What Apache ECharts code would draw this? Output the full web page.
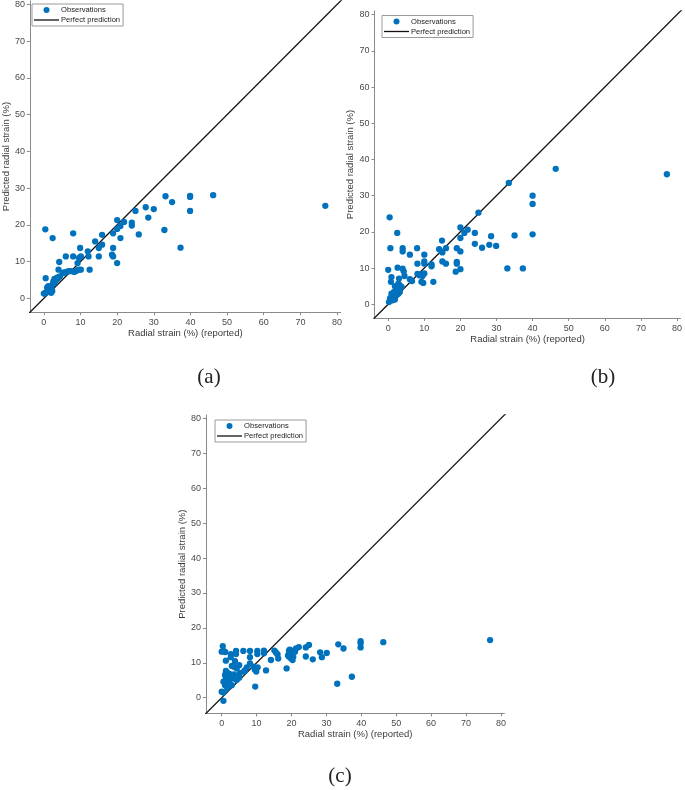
<!DOCTYPE html>
<html><head><meta charset="utf-8">
<script src="https://cdn.jsdelivr.net/npm/echarts@6/dist/echarts.min.js"></script>
<style>html,body{margin:0;padding:0;background:#fff}#c{width:685px;height:790px}</style>
</head><body><div id="c"></div>
<script>
const tickValues = [0, 10, 20, 30, 40, 50, 60, 70, 80];
const seriesNames = ['Observations', 'Perfect prediction'];
const panelLabels = ['(a)', '(b)', '(c)'];
const xTitle = 'Radial strain (%) (reported)';
const yTitle = 'Predicted radial strain (%)';
const perfectLine = [-10, 90];

const obsA = [[0.4,18.8],[2.4,16.4],[0.5,5.5],[0,1.3],[0.6,1.5],[1.1,2.0],[0.9,2.9],[1.5,2.6],[2.0,1.5],[2.3,2.0],[2.0,3.3],[2.4,3.8],[2.9,4.2],[2.9,5.3],[3.3,4.9],[3.6,5.6],[4.1,5.8],[4.4,6.0],[4.0,7.8],[4.2,9.9],[6.0,11.4],[5.4,6.9],[6.0,7.1],[6.7,7.4],[7.4,7.4],[8.0,17.7],[8.0,11.4],[8.3,7.2],[8.9,7.5],[9.5,7.8],[10.1,7.8],[9.2,9.6],[9.6,11.0],[10.1,11.4],[9.9,13.7],[12.0,12.8],[12.2,11.4],[12.5,7.8],[14.0,15.5],[15.0,13.7],[15.0,11.4],[15.9,14.6],[15.9,17.3],[18.6,11.9],[18.9,11.4],[18.9,13.7],[18.9,17.7],[20.0,21.3],[20.0,18.9],[20.0,9.6],[20.9,19.7],[20.9,16.4],[21.9,20.8],[24.0,20.6],[24.0,19.8],[25.0,23.8],[25.9,17.4],[27.8,24.8],[28.5,22.0],[30.0,24.3],[32.9,18.6],[33.2,27.8],[35.0,26.2],[37.3,13.8],[39.9,27.9],[39.9,27.6],[39.9,23.8],[46.2,28.1],[76.8,25.2],[1.2,3.3],[1.7,2.3],[2.6,4.6],[3.1,5.0],[3.8,5.4],[5.2,7.0],[1.0,1.8],[0.3,1.4]];

const obsB = [[46.4,37.4],[33.4,33.5],[40.0,30.0],[40.0,27.7],[40.0,19.3],[25.0,25.3],[0.4,24.0],[2.5,19.7],[20.0,21.2],[22.0,20.6],[21.1,19.7],[24.0,19.7],[28.5,18.8],[35.0,19.0],[20.0,18.3],[14.9,17.6],[24.0,16.7],[28.0,16.4],[26.0,15.6],[29.9,16.1],[0.6,15.5],[4.0,15.5],[4.0,14.6],[8.0,15.5],[14.1,15.2],[16.0,15.5],[19.0,15.5],[20.0,14.6],[6.0,13.7],[10.0,13.7],[15.0,14.3],[19.0,11.7],[19.0,11.2],[15.0,11.8],[16.0,11.2],[12.0,11.0],[12.0,10.5],[10.0,11.8],[10.0,11.2],[8.1,11.2],[18.7,9.0],[20.0,9.7],[33.0,9.9],[37.3,9.9],[0,9.5],[2.6,10.1],[4.0,9.8],[4.3,9.1],[12.5,6.2],[9.0,8.3],[9.5,7.8],[10.0,8.5],[9.2,6.2],[9.7,5.9],[8.1,8.4],[8.6,8.0],[6.0,6.9],[6.6,6.4],[4.5,7.8],[0.9,7.5],[0.75,6.2],[3.0,7.1],[1.85,5.0],[2.8,5.7],[3.2,5.2],[3.7,4.8],[0.2,0.6],[0.5,1.6],[0.9,2.0],[1.4,2.5],[1.85,2.0],[2.3,2.5],[2.8,2.9],[1.6,3.4],[2.1,3.7],[2.6,4.0],[1.2,1.1],[1.85,1.3],[3.2,3.4],[0.9,2.9],[77.2,35.9]];

const obsC = [[46.3,15.9],[39.8,16.2],[39.8,15.6],[39.8,14.4],[33.4,15.3],[34.9,14.1],[25.0,15.1],[24.1,14.4],[22.1,14.5],[21.3,14.1],[21.0,13.2],[19.3,13.5],[19.3,12.7],[20.0,13.5],[19.0,12.1],[20.0,12.1],[19.3,11.7],[20.5,11.7],[19.5,13.8],[19.8,11.3],[20.3,10.8],[18.6,8.4],[24.1,11.8],[26.1,11.0],[28.2,13.0],[28.7,11.6],[30.1,12.8],[33.1,4.0],[37.3,6.0],[15.1,13.5],[15.6,12.9],[16.0,12.4],[16.2,11.2],[14.1,10.8],[12.1,13.5],[12.1,12.7],[10.2,13.4],[10.2,12.5],[8.1,13.4],[8.1,11.6],[6.2,13.4],[4.1,13.4],[4.1,12.5],[2.6,12.5],[2.6,11.6],[0.3,14.8],[0,13.2],[0.5,13.4],[1.0,13.1],[1.2,10.6],[3.8,10.5],[5.0,9.3],[2.9,9.1],[3.5,8.9],[4.3,8.4],[7.2,8.7],[8.1,9.8],[9.1,8.9],[9.5,8.0],[9.9,7.5],[10.3,8.7],[12.7,7.8],[9.6,3.2],[1.2,7.7],[1.6,7.2],[2.2,6.8],[0.95,6.5],[1.9,6.0],[2.9,6.5],[2.4,5.4],[3.3,5.5],[4.3,5.1],[1.4,4.6],[2.2,4.1],[0.95,3.6],[2.9,3.6],[1.9,3.2],[6.7,7.9],[6.4,7.5],[5.2,7.0],[0,1.7],[0.5,1.5],[1.6,2.7],[0.5,-0.9],[0.5,4.6],[1.2,5.5],[3.5,6.7],[4.6,6.0],[5.0,5.7],[76.9,16.5]];

const panels = [
  { data: obsA, grid: { left: 26.7, top: -1.5, width: 314, height: 313.8 }, range: [-3.8, 81], legend: { left: 32, top: 4 }, label: { x: 209, y: 377 } },
  { data: obsB, grid: { left: 374.5, top: 11, width: 307, height: 307 }, range: [-3.8, 81], legend: { left: 382, top: 15.5 }, label: { x: 603, y: 377 } },
  { data: obsC, grid: { left: 206, top: 415, width: 298.4, height: 298.4 }, range: [-4.5, 81], legend: { left: 215, top: 420 }, label: { x: 340, y: 776 } }
];

const FONT = 'Liberation Sans, Arial, sans-serif';
const axisColor = '#8a8a8a';
const textColor = '#4a4a4a';

function axis(i, p, isX) {
  return {
    type: 'value', gridIndex: i, min: p.range[0], max: p.range[1],
    name: isX ? xTitle : yTitle, nameLocation: 'middle', nameGap: isX ? 16 : 15,
    nameTextStyle: { fontFamily: FONT, fontSize: 9.5, color: '#3a3a3a' },
    axisLine: { show: true, onZero: false, lineStyle: { color: axisColor, width: 1 } },
    axisTick: { show: true, inside: false, length: 3, customValues: tickValues, lineStyle: { color: axisColor } },
    axisLabel: { customValues: tickValues, fontFamily: FONT, fontSize: 9, color: textColor, margin: isX ? 6 : 5 },
    splitLine: { show: false }
  };
}

const option = {
  animation: false,
  backgroundColor: '#fff',
  grid: panels.map(p => Object.assign({ containLabel: false }, p.grid)),
  xAxis: panels.map((p, i) => axis(i, p, true)),
  yAxis: panels.map((p, i) => axis(i, p, false)),
  legend: panels.map(p => ({
    data: [
      { name: seriesNames[0], icon: 'circle' },
      { name: seriesNames[1], icon: 'path://M0,0H100V5.2H0Z' }
    ],
    orient: 'vertical', left: p.legend.left, top: p.legend.top, symbolKeepAspect: true,
    backgroundColor: '#fff', borderColor: '#9a9a9a', borderWidth: 1, borderRadius: 0,
    padding: [2, 3, 2, 2], itemGap: 2, itemWidth: 25, itemHeight: 6,
    textStyle: { fontFamily: FONT, fontSize: 7.6, color: '#222', padding: [0, 0, 0, -3] }, selectedMode: false
  })),
  series: panels.flatMap((p, i) => [
    { name: seriesNames[0], type: 'scatter', xAxisIndex: i, yAxisIndex: i, data: p.data,
      symbol: 'circle', symbolSize: 6.3, itemStyle: { color: '#0072BD', opacity: 1 }, z: 3 },
    { name: seriesNames[1], type: 'line', xAxisIndex: i, yAxisIndex: i,
      data: [[perfectLine[0], perfectLine[0]], [perfectLine[1], perfectLine[1]]],
      symbol: 'none', clip: true, lineStyle: { color: '#111', width: 1.3 }, itemStyle: { color: '#111' }, z: 2 }
  ]),
  graphic: panels.map((p, i) => ({
    type: 'text', x: p.label.x, y: p.label.y,
    style: { text: panelLabels[i], fontFamily: 'Liberation Serif, serif', fontSize: 21, fill: '#222', textAlign: 'center', textVerticalAlign: 'middle' }
  }))
};

const chart = echarts.init(document.getElementById('c'), null, { renderer: 'canvas' });
chart.setOption(option);
</script></body></html>
